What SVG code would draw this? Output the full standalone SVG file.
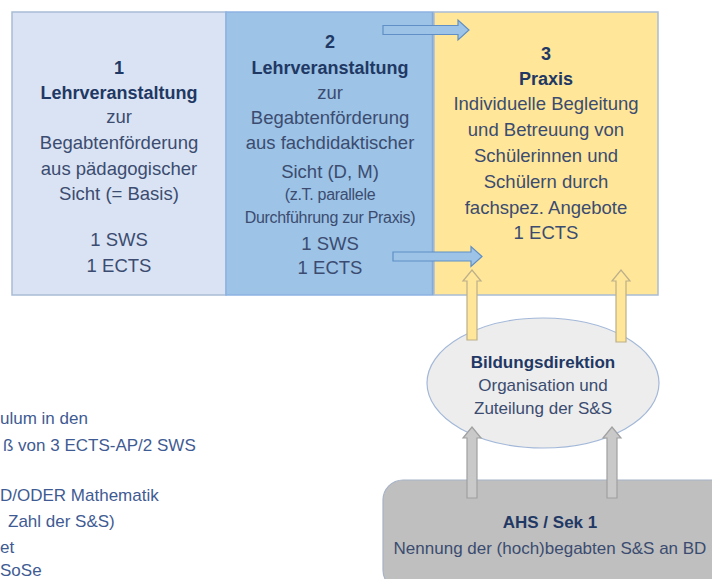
<svg xmlns="http://www.w3.org/2000/svg" width="712" height="579" viewBox="0 0 712 579">
<style>
text{font-family:"Liberation Sans",Arial,sans-serif;text-anchor:middle;fill:#3b4c70}
.b{font-weight:bold;fill:#1f3864}
.t{font-size:18.5px}
.tb{font-size:18px}
.s{font-size:16px;letter-spacing:-0.3px}
.m{font-size:17px}
.n{font-size:17px;text-anchor:start;fill:#3f5b93}
.blue{fill:#9dc3e6;stroke:#5f8fc6;stroke-width:1.2}
.yel{fill:#ffe699;stroke:#bcb08a;stroke-width:1.2}
.gry{fill:#c9c9c9;stroke:#a0a0a0;stroke-width:1.2}
</style>
<rect width="712" height="579" fill="#ffffff"/>
<g id="box1">
<rect x="12" y="12" width="214" height="283" fill="#dae3f3" stroke="#a9bcd6" stroke-width="1.5"/>
<text x="119" y="74" class="b tb">1</text>
<text x="119" y="99" class="b tb">Lehrveranstaltung</text>
<text x="119" y="123" class="t">zur</text>
<text x="119" y="149" class="t">Begabtenförderung</text>
<text x="119" y="175" class="t">aus pädagogischer</text>
<text x="119" y="200" class="t">Sicht (= Basis)</text>
<text x="119" y="246" class="t">1 SWS</text>
<text x="119" y="272" class="t">1 ECTS</text>
</g>
<g id="box2">
<rect x="226" y="12" width="207" height="283" fill="#9dc3e6" stroke="#8db3e2" stroke-width="1.5"/>
<line x1="433" y1="12" x2="433" y2="295" stroke="#82aadb" stroke-width="2.5"/>
<text x="330" y="48" class="b tb">2</text>
<text x="330" y="74" class="b tb">Lehrveranstaltung</text>
<text x="330" y="99" class="t">zur</text>
<text x="330" y="124" class="t">Begabtenförderung</text>
<text x="330" y="149" class="t">aus fachdidaktischer</text>
<text x="330" y="178" class="t">Sicht (D, M)</text>
<text x="330" y="200" class="s">(z.T. parallele</text>
<text x="330" y="223" class="s">Durchführung zur Praxis)</text>
<text x="330" y="250" class="t">1 SWS</text>
<text x="330" y="274" class="t">1 ECTS</text>
</g>
<g id="box3">
<rect x="434" y="12" width="224" height="283" fill="#ffe699" stroke="#a9bcd6" stroke-width="1.5"/>
<text x="546" y="60" class="b tb">3</text>
<text x="546" y="85" class="b tb">Praxis</text>
<text x="546" y="110" class="t">Individuelle Begleitung</text>
<text x="546" y="136" class="t">und Betreuung von</text>
<text x="546" y="162" class="t">Schülerinnen und</text>
<text x="546" y="188" class="t">Schülern durch</text>
<text x="546" y="214" class="t">fachspez. Angebote</text>
<text x="546" y="239" class="t">1 ECTS</text>
</g>
<g id="bildungsdirektion">
<ellipse cx="543" cy="383" rx="116" ry="65" fill="#ededed" stroke="#a3b8d8" stroke-width="1.2"/>
<text x="543" y="368" class="b m">Bildungsdirektion</text>
<text x="543" y="391" class="m">Organisation und</text>
<text x="543" y="414" class="m">Zuteilung der S&amp;S</text>
</g>
<g id="ahs">
<rect x="383" y="480" width="350" height="110" rx="20" ry="20" fill="#bfbfbf" stroke="#a7b3c6" stroke-width="1.2"/>
<text x="550" y="528" class="b m">AHS / Sek 1</text>
<text x="550" y="554" class="m">Nennung der (hoch)begabten S&amp;S an BD</text>
</g>
<g id="notes">
<text x="0" y="424" class="n">ulum in den</text>
<text x="3" y="451" class="n">ß von 3 ECTS-AP/2 SWS</text>
<text x="0" y="501" class="n">D/ODER Mathematik</text>
<text x="8" y="527" class="n">Zahl der S&amp;S)</text>
<text x="0" y="553" class="n">et</text>
<text x="0" y="576" class="n">SoSe</text>
</g>
<g id="connectors">
<path class="blue" d="M383,25.5 H458 V20 L469,30 L458,40 V34.5 H383 Z"/>
<path class="blue" d="M393,252 H471 V246.5 L482,256.5 L471,266.5 V261 H393 Z"/>
<path class="yel" d="M467,340 V281 H463 L472,270 L481,281 H477 V340 Z"/>
<path class="yel" d="M616,342 V281 H612 L621,270 L630,281 H626 V342 Z"/>
<path class="gry" d="M467,498 V438 H463 L472,427 L481,438 H477 V498 Z"/>
<path class="gry" d="M607,498 V438 H603 L612,427 L621,438 H617 V498 Z"/>
</g>
</svg>
